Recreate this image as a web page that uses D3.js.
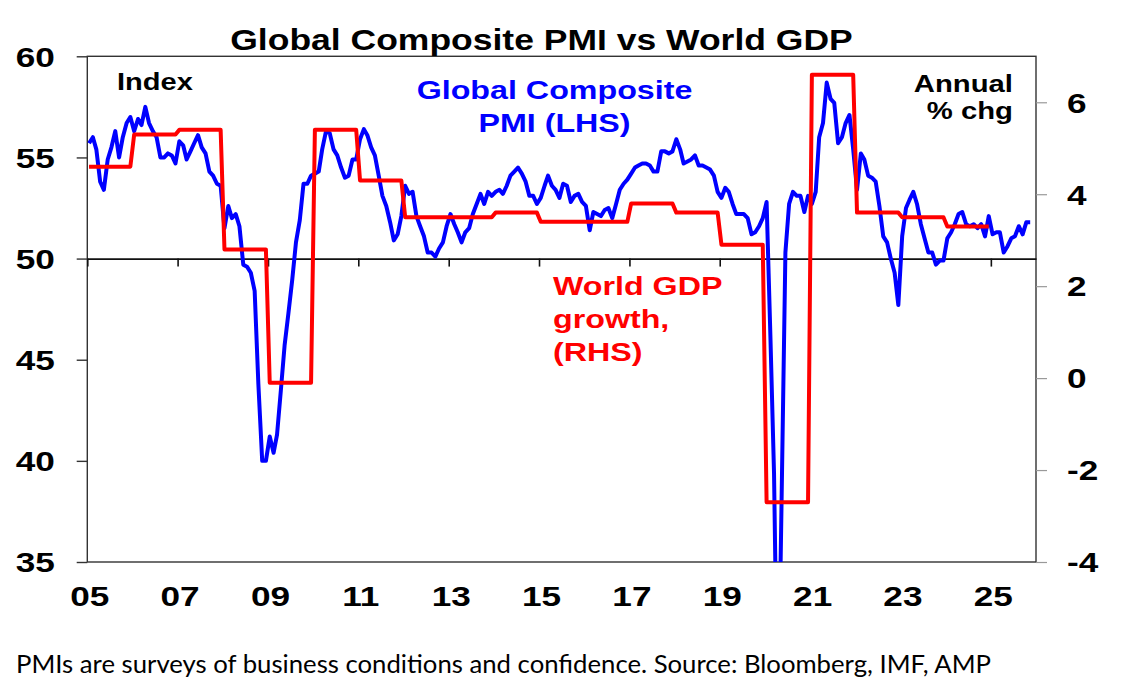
<!DOCTYPE html>
<meta charset="utf-8">
<style>
body { margin: 0; background: #fff; }
svg { display: block; font-family: "Liberation Sans", Arial, sans-serif; }
.bold { font-weight: bold; }
.line { fill: none; stroke-width: 4px; stroke-linejoin: round; }
</style>
<svg width="1128" height="693"></svg>
<script src="https://d3js.org/d3.v7.min.js"></script>
<script>

// monthly global composite PMI, Jan 2005 onwards
var pmiStart = [2005, 0];
var pmi = [
  55.7, 56.0, 55.4, 53.8, 53.4, 54.9, 55.5, 56.3, 55.0, 56.0, 56.7, 57.0,
  56.3, 56.9, 56.6, 57.5, 56.7, 56.3, 56.0, 55.0, 55.0, 55.2, 55.1, 54.7,
  55.8, 55.6, 54.9, 55.3, 55.7, 56.1, 55.5, 55.2, 54.3, 54.1, 53.7, 53.6,
  51.5, 52.6, 52.0, 52.2, 51.6, 49.7, 49.6, 49.3, 48.4, 43.8, 40.0, 40.0,
  41.2, 40.4, 41.3, 43.5, 45.7, 47.3, 48.9, 50.8, 51.9, 53.7, 53.7, 54.1,
  54.2, 54.3, 55.4, 56.3, 56.2, 55.4, 55.1, 54.5, 54.0, 54.1, 54.9, 54.9,
  55.9, 56.4, 56.1, 55.5, 55.1, 54.1, 53.1, 52.6, 51.8, 50.9, 51.2, 52.1,
  53.6, 53.2, 53.3, 52.1, 51.6, 51.1, 50.3, 50.3, 50.1, 50.5, 50.8, 51.6,
  52.2, 51.7, 51.3, 50.8, 51.3, 51.5, 52.2, 52.7, 53.2, 52.7, 53.3, 53.1,
  53.3, 53.4, 53.2, 53.6, 54.1, 54.3, 54.5, 54.2, 53.8, 53.1, 53.1, 52.7,
  53.0, 53.6, 54.1, 53.6, 53.4, 53.0, 53.7, 53.6, 52.8, 53.1, 53.2, 52.8,
  52.6, 51.4, 52.3, 52.2, 52.1, 52.4, 52.5, 52.0, 52.7, 53.4, 53.7, 53.9,
  54.2, 54.5, 54.6, 54.7, 54.7, 54.6, 54.3, 54.3, 55.3, 55.3, 55.2, 55.3,
  55.9, 55.4, 54.7, 54.8, 54.9, 55.1, 54.6, 54.6, 54.5, 54.4, 54.1, 53.3,
  53.0, 53.5, 53.3, 52.7, 52.2, 52.2, 52.2, 52.0, 51.2, 51.3, 51.6, 52.0,
  52.8, 46.1, 39.4, 26.2, 38.0, 50.3, 52.7, 53.3, 53.1, 53.1, 52.3, 53.1,
  52.7, 53.3, 56.0, 56.7, 58.7, 57.9, 57.7, 55.7, 56.0, 56.7, 57.1, 55.4,
  53.4, 55.2, 54.9, 54.1, 54.0, 53.8, 52.6, 51.1, 50.8, 50.0, 49.3, 47.7,
  51.1, 52.5, 52.9, 53.3, 52.7, 51.7, 51.0, 50.3, 50.3, 49.7, 49.9, 49.9,
  51.0, 51.3, 51.7, 52.2, 52.3, 51.7, 51.6, 51.7, 51.5, 51.7, 51.1, 52.1,
  51.2, 51.3, 51.3, 50.3, 50.6, 51.0, 51.1, 51.6, 51.2, 51.8, 51.8
];

// annual world GDP growth, %
var gdpYears = [2005, 2006, 2007, 2008, 2009, 2010, 2011, 2012, 2013, 2014,
                2015, 2016, 2017, 2018, 2019, 2020, 2021, 2022, 2023, 2024];
var gdp = [4.6, 5.3, 5.4, 2.8, -0.1, 5.4, 4.3, 3.5, 3.5, 3.6,
           3.4, 3.4, 3.8, 3.6, 2.9, -2.7, 6.6, 3.6, 3.5, 3.3];

var pmiTicks = [35, 40, 45, 50, 55, 60];
var gdpTicks = [-4, -2, 0, 2, 4, 6];
var yearTicks = [2005, 2007, 2009, 2011, 2013, 2015, 2017, 2019, 2021, 2023, 2025];

var svg = d3.select("svg"),
    SX = 1.24;   // the original's lettering is stretched sideways

var plotL = 87.3, plotR = 1036, plotT = 56.3, plotB = 562;

var x = d3.scaleTime()
    .domain([new Date(2005, 0, 1), new Date(2026, 0, 1)])
    .range([plotL, plotR]);
var yL = d3.scaleLinear().domain([35, 60]).range([plotB, plotT]);
var yR = d3.scaleLinear().domain([-4, 7]).range([plotB, plotT]);

function yearDate(y) { return new Date(y, 0, 1); }

svg.append("defs").append("clipPath").attr("id", "plot")
  .append("rect")
    .attr("x", plotL).attr("y", plotT)
    .attr("width", plotR - plotL).attr("height", plotB - plotT);

// plot box
svg.append("rect")
    .attr("x", plotL).attr("y", plotT)
    .attr("width", plotR - plotL).attr("height", plotB - plotT)
    .attr("fill", "none").attr("stroke", "#333").attr("stroke-width", 1.4);

// left axis
svg.append("g")
    .attr("transform", "translate(" + plotL + ",0)")
    .call(d3.axisLeft(yL).tickValues(pmiTicks).tickSize(10.6).tickFormat(function(d) { return String(d); }))
    .call(function(g) {
      g.select(".domain").remove();
      g.selectAll(".tick line").attr("stroke", "#333").attr("stroke-width", 1.4);
      g.selectAll(".tick text")
        .attr("class", "bold")
        .attr("x", -32.5 / 1.28).attr("y", 9.7).attr("dy", null)
        .attr("transform", "scale(1.28,1)")
        .attr("fill", "#000")
        .style("font-size", "27.5px");
    });

// right axis
svg.append("g")
    .attr("transform", "translate(" + plotR + ",0)")
    .call(d3.axisRight(yR).tickValues(gdpTicks).tickSize(11).tickFormat(function(d) { return String(d); }))
    .call(function(g) {
      g.select(".domain").remove();
      g.selectAll(".tick line").attr("stroke", "#999").attr("stroke-width", 1.2);
      g.selectAll(".tick text")
        .attr("class", "bold")
        .attr("x", 31 / 1.28).attr("y", 9.8).attr("dy", null)
        .attr("transform", "scale(1.28,1)")
        .attr("fill", "#000")
        .style("font-size", "27.5px");
    });

// x axis running along the 50 line
svg.append("g")
    .attr("transform", "translate(0," + yL(50) + ")")
    .call(d3.axisBottom(x).tickValues(yearTicks.map(yearDate)).tickSize(8).tickSizeOuter(0).tickFormat(""))
    .call(function(g) {
      g.select(".domain").attr("stroke", "#111").attr("stroke-width", 1.6);
      g.selectAll(".tick line").attr("stroke", "#111").attr("stroke-width", 1.6);
    });

// year labels under the plot
svg.append("g")
    .attr("transform", "translate(0," + plotB + ")")
    .call(d3.axisBottom(x).tickValues(yearTicks.map(yearDate)).tickSize(0).tickFormat(d3.timeFormat("%y")))
    .call(function(g) {
      g.select(".domain").remove();
      g.selectAll(".tick text")
        .attr("class", "bold")
        .attr("x", 2 / 1.28).attr("y", 43.7).attr("dy", null)
        .attr("transform", "scale(1.28,1)")
        .attr("fill", "#000")
        .style("font-size", "27.5px");
    });

// series
var pmiLine = d3.line()
    .x(function(d, i) { return x(new Date(pmiStart[0], pmiStart[1] + i, 15)); })
    .y(function(d) { return yL(d); });

var gdpSteps = gdpYears.flatMap(function(yr, k) {
  return [[new Date(yr, 0, 15), gdp[k]], [new Date(yr, 11, 15), gdp[k]]];
});
var gdpLine = d3.line()
    .x(function(d) { return x(d[0]); })
    .y(function(d) { return yR(d[1]); });

var plot = svg.append("g").attr("clip-path", "url(#plot)");

plot.append("path").datum(pmi)
    .attr("class", "line").attr("stroke", "#0000ff")
    .attr("d", pmiLine);

plot.append("path").datum(gdpSteps)
    .attr("class", "line").attr("stroke", "#ff0000")
    .attr("d", gdpLine);

// lettering
function label(px, py, str, size, anchor, fill, sx) {
  svg.append("text")
    .attr("class", "bold")
    .attr("transform", "translate(" + px + "," + py + ") scale(" + (sx || SX) + ",1)")
    .attr("text-anchor", anchor)
    .attr("fill", fill)
    .style("font-size", size + "px")
    .text(str);
}

label(541.5, 50, "Global Composite PMI vs World GDP", 29, "middle", "#000", 1.224);
label(117, 90, "Index", 24, "start", "#000", 1.21);
label(1013, 92, "Annual", 24, "end", "#000", 1.22);
label(1013, 118.5, "% chg", 24, "end", "#000", 1.22);

label(554.5, 99, "Global Composite", 26, "middle", "#0000ff");
label(554.5, 131.7, "PMI (LHS)", 26, "middle", "#0000ff");

label(553, 295, "World GDP", 26, "start", "#ff0000");
label(553, 327.8, "growth,", 26, "start", "#ff0000");
label(553, 360.5, "(RHS)", 26, "start", "#ff0000");

svg.append("text")
    .attr("x", 16).attr("y", 672.5)
    .attr("textLength", 975).attr("lengthAdjust", "spacingAndGlyphs")
    .style("font-family", "Lato, 'Open Sans', sans-serif")
    .style("font-size", "25px")
    .attr("fill", "#000")
    .text("PMIs are surveys of business conditions and confidence. Source: Bloomberg, IMF, AMP");

</script>
